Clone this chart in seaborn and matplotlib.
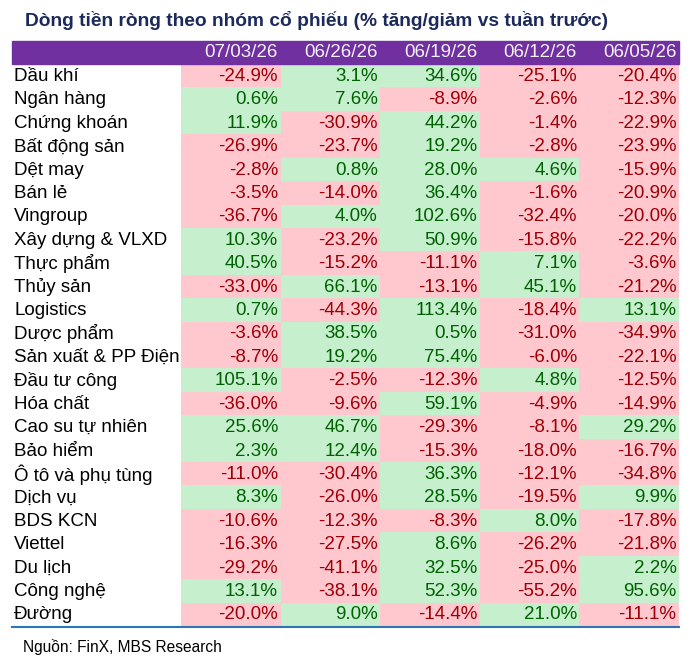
import numpy as np
import pandas as pd
import seaborn as sns
import matplotlib.pyplot as plt
from matplotlib.colors import ListedColormap
from matplotlib.patches import Rectangle
from matplotlib.lines import Line2D
import matplotlib.transforms as mtransforms

sectors = ["Dầu khí", "Ngân hàng", "Chứng khoán", "Bất động sản", "Dệt may",
           "Bán lẻ", "Vingroup", "Xây dựng & VLXD", "Thực phẩm", "Thủy sản",
           "Logistics", "Dược phẩm", "Sản xuất & PP Điện", "Đầu tư công",
           "Hóa chất", "Cao su tự nhiên", "Bảo hiểm", "Ô tô và phụ tùng",
           "Dịch vụ", "BDS KCN", "Viettel", "Du lịch", "Công nghệ", "Đường"]
weeks = ["07/03/26", "06/26/26", "06/19/26", "06/12/26", "06/05/26"]

w_0703 = [-24.9, 0.6, 11.9, -26.9, -2.8, -3.5, -36.7, 10.3, 40.5, -33.0, 0.7, -3.6,
          -8.7, 105.1, -36.0, 25.6, 2.3, -11.0, 8.3, -10.6, -16.3, -29.2, 13.1, -20.0]
w_0626 = [3.1, 7.6, -30.9, -23.7, 0.8, -14.0, 4.0, -23.2, -15.2, 66.1, -44.3, 38.5,
          19.2, -2.5, -9.6, 46.7, 12.4, -30.4, -26.0, -12.3, -27.5, -41.1, -38.1, 9.0]
w_0619 = [34.6, -8.9, 44.2, 19.2, 28.0, 36.4, 102.6, 50.9, -11.1, -13.1, 113.4, 0.5,
          75.4, -12.3, 59.1, -29.3, -15.3, 36.3, 28.5, -8.3, 8.6, 32.5, 52.3, -14.4]
w_0612 = [-25.1, -2.6, -1.4, -2.8, 4.6, -1.6, -32.4, -15.8, 7.1, 45.1, -18.4, -31.0,
          -6.0, 4.8, -4.9, -8.1, -18.0, -12.1, -19.5, 8.0, -26.2, -25.0, -55.2, 21.0]
w_0605 = [-20.4, -12.3, -22.9, -23.9, -15.9, -20.9, -20.0, -22.2, -3.6, -21.2, 13.1, -34.9,
          -22.1, -12.5, -14.9, 29.2, -16.7, -34.8, 9.9, -17.8, -21.8, 2.2, 95.6, -11.1]

df = pd.DataFrame({weeks[0]: w_0703, weeks[1]: w_0626, weeks[2]: w_0619,
                   weeks[3]: w_0612, weeks[4]: w_0605}, index=sectors)

PINK, GREEN = "#FFC7CE", "#C6EFCE"
RED_TXT, GREEN_TXT = "#9C0006", "#006100"
PURPLE = "#7030A0"
FS = 13.5

plt.rcParams['font.family'] = ['Liberation Sans', 'DejaVu Sans']

W, H = 692, 657
fig = plt.figure(figsize=(W / 100, H / 100), dpi=100)

left, right, top, bottom = 181, 679, 64, 626
ax = fig.add_axes([left / W, 1 - bottom / H, (right - left) / W, (bottom - top) / H])
sns.heatmap((df > 0).astype(int), cmap=ListedColormap([PINK, GREEN]), vmin=0, vmax=1,
            cbar=False, ax=ax, xticklabels=False, yticklabels=False)
ax.set_xlabel("")
ax.set_ylabel("")

# values, right aligned in each cell
for i, name in enumerate(sectors):
    for j, wk in enumerate(weeks):
        v = df.loc[name, wk]
        ax.text(j + 0.975, i + 0.53, f"{v:.1f}%", ha="right", va="center",
                fontsize=FS, color=GREEN_TXT if v > 0 else RED_TXT)

# row labels
trans = mtransforms.blended_transform_factory(fig.transFigure, ax.transData)
for i, name in enumerate(sectors):
    ax.text(14 / W, i + 0.53, name, transform=trans, ha="left", va="center",
            fontsize=FS, color="black", clip_on=False)

# header band
fig.patches.append(Rectangle((12 / W, 1 - top / H), (right - 12) / W, 23 / H,
                             transform=fig.transFigure, color=PURPLE, zorder=0))
for j, wk in enumerate(weeks):
    x = (left + (j + 0.975) * (right - left) / 5) / W
    fig.text(x, 1 - 52.5 / H, wk, ha="right", va="center", fontsize=FS, color="#F2F2F2")

# bottom rule
fig.lines.append(Line2D([12 / W, right / W], [1 - 626.5 / H] * 2,
                        transform=fig.transFigure, color="#2E75B6", lw=1.5))

fig.text(25 / W, 1 - 21 / H, "Dòng tiền ròng theo nhóm cổ phiếu (% tăng/giảm vs tuần trước)",
         ha="left", va="center", fontsize=13.75, fontweight="bold", color="#1B2A5A")
fig.text(23 / W, 1 - 647 / H, "Nguồn: FinX, MBS Research", ha="left", va="center",
         fontsize=11.2, color="black")

fig.savefig("out.png", dpi=100)
